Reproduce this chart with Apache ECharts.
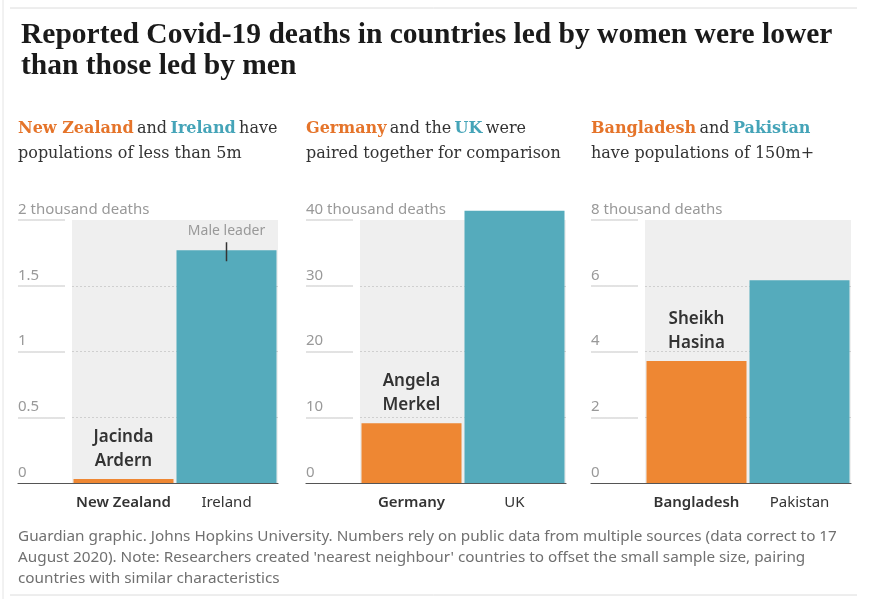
<!DOCTYPE html>
<html>
<head>
<meta charset="utf-8">
<script src="https://cdn.jsdelivr.net/npm/echarts@6/dist/echarts.min.js"></script>
<style>
html,body{margin:0;padding:0;background:#fff;}
#chart{width:870px;height:599px;}
</style>
</head>
<body>
<div id="chart"></div>
<script>
// ---- data ----
const catsA = ['New Zealand', 'Ireland'];
const valsA = [0.03, 1.77];
const catsB = ['Germany', 'UK'];
const valsB = [9.1, 41.4];
const catsC = ['Bangladesh', 'Pakistan'];
const valsC = [3.71, 6.17];
const leaders = ['Jacinda\nArdern', 'Angela\nMerkel', 'Sheikh\nHasina'];
const maleNote = 'Male leader';
const axisMax = [2, 40, 8];
const axisStep = [0.5, 10, 2];
const unitLabel = ' thousand deaths';

const ORANGE = '#ee8733';
const TEAL = '#55abbc';
const ORANGE_T = '#e5742a';
const TEAL_T = '#45a4b8';
const DARK = '#333333';
const GREY = '#999999';
const SANS = '"Noto Sans", "Open Sans", sans-serif';
const SERIF = '"DejaVu Serif", serif';

const chart = echarts.init(document.getElementById('chart'), null, {renderer: 'canvas'});

const panelX = [18, 306, 591];   // label column left
const gapA = 54;                  // width of label column to gray area
const plotW = 206;
const plotTop = 220, plotH = 263;

const cats = [catsA, catsB, catsC];
const vals = [valsA, valsB, valsC];

const grids = [], xAxes = [], yAxes = [], series = [];
for (let p = 0; p < 3; p++) {
  const gA = grids.length;
  grids.push({left: panelX[p], top: plotTop, width: gapA, height: plotH, show: false});
  const gB = grids.length;
  grids.push({left: panelX[p] + gapA, top: plotTop, width: plotW, height: plotH, show: true,
    backgroundColor: '#efefef', borderWidth: 0});
  // label column axes
  xAxes.push({gridIndex: gA, type: 'value', min: 0, max: 1,
    axisLine: {show: true, onZero: false, lineStyle: {color: '#555', width: 1.2}},
    axisTick: {show: false}, axisLabel: {show: false}, splitLine: {show: false}});
  yAxes.push({gridIndex: gA, type: 'value', min: 0, max: axisMax[p], interval: axisStep[p],
    axisLine: {show: false}, axisTick: {show: false},
    axisLabel: {show: true, inside: true, margin: 0, align: 'left', verticalAlign: 'bottom',
      padding: [0, 0, 3, 0], color: GREY, fontFamily: SANS, fontSize: 15,
      showMinLabel: true, showMaxLabel: true,
      formatter: (v) => v === axisMax[p] ? v + unitLabel : String(v)},
    splitLine: {show: true, showMinLine: false, lineStyle: {width: 1.5, color: {
      type: 'linear', x: 0, y: 0, x2: 1, y2: 0,
      colorStops: [{offset: 0, color: '#d9d9d9'}, {offset: 0.833, color: '#d9d9d9'},
                   {offset: 0.834, color: 'rgba(255,255,255,0)'}, {offset: 1, color: 'rgba(255,255,255,0)'}]}}}
  });
  // plot axes
  const xi = xAxes.length;
  xAxes.push({gridIndex: gB, type: 'category', data: cats[p],
    axisLine: {show: true, lineStyle: {color: '#555', width: 1.2}},
    axisTick: {show: false},
    axisLabel: {interval: 0, margin: 12, fontFamily: SANS, fontSize: 15, color: DARK, hideOverlap: false,
      formatter: (v, i) => i === 0 ? '{b|' + v + '}' : '{n|' + v + '}',
      rich: {b: {fontWeight: 600, fontSize: 15, fontFamily: SANS, color: DARK},
             n: {fontWeight: 400, fontSize: 15, fontFamily: SANS, color: DARK}}}
  });
  const yi = yAxes.length;
  yAxes.push({gridIndex: gB, type: 'value', min: 0, max: axisMax[p], interval: axisStep[p],
    axisLine: {show: false}, axisTick: {show: false}, axisLabel: {show: false},
    splitLine: {show: true, showMinLine: false, showMaxLine: false,
      lineStyle: {type: [2, 2], color: '#cfcfcf', width: 1}}
  });
  const data = [
    {value: vals[p][0], itemStyle: {color: ORANGE},
     label: {show: true, position: 'top', distance: 6, formatter: leaders[p],
       fontFamily: SANS, fontSize: 17, fontWeight: 600, color: DARK, lineHeight: 24, align: 'center'}},
    {value: vals[p][1], itemStyle: {color: TEAL},
     label: p === 0 ? {show: true, position: 'top', distance: -11,
       formatter: '{t|' + maleNote + '}\n{l|}',
       rich: {t: {color: GREY, fontFamily: SANS, fontSize: 14, lineHeight: 22, align: 'center'},
              l: {width: 1.5, height: 19, backgroundColor: DARK, align: 'center'}}} : {show: false}}
  ];
  series.push({type: 'bar', xAxisIndex: xi, yAxisIndex: yi, data: data, barWidth: 100,
    clip: false, animation: false});
}

const subtitles = [
  '{o|New Zealand} {d|and} {t|Ireland} {d|have}\n{d|populations of less than 5m}',
  '{o|Germany} {d|and the} {t|UK} {d|were}\n{d|paired together for comparison}',
  '{o|Bangladesh} {d|and} {t|Pakistan}\n{d|have populations of 150m+}'
];
const subRich = {
  o: {fill: ORANGE_T, fontWeight: 'bold', fontFamily: SERIF, fontSize: 16, lineHeight: 25},
  t: {fill: TEAL_T, fontWeight: 'bold', fontFamily: SERIF, fontSize: 16, lineHeight: 25},
  d: {fill: DARK, fontWeight: 'normal', fontFamily: SERIF, fontSize: 16, lineHeight: 25}
};

const graphics = [
  {type: 'line', shape: {x1: 10, y1: 8, x2: 857, y2: 8}, style: {stroke: '#dcdcdc', lineWidth: 1}},
  {type: 'line', shape: {x1: 3, y1: 0, x2: 3, y2: 599}, style: {stroke: '#e4e4e4', lineWidth: 1}},
  {type: 'line', shape: {x1: 10, y1: 595, x2: 857, y2: 595}, style: {stroke: '#dcdcdc', lineWidth: 1}},
  {type: 'text', left: 18, top: 526, style: {
    text: "Guardian graphic. Johns Hopkins University. Numbers rely on public data from multiple sources (data correct to 17\nAugust 2020). Note: Researchers created 'nearest neighbour' countries to offset the small sample size, pairing\ncountries with similar characteristics",
    fill: '#707070', fontFamily: SANS, fontSize: 15.3, lineHeight: 21}}
];
for (let p = 0; p < 3; p++) {
  graphics.push({type: 'text', left: panelX[p], top: 121, style: {text: subtitles[p], rich: subRich}});
}

chart.setOption({
  animation: false,
  title: {
    text: 'Reported Covid-19 deaths in countries led by women were lower\nthan those led by men',
    left: 16, top: 15,
    textStyle: {fontFamily: '"Liberation Serif", serif', fontWeight: 'bold', fontSize: 29.5,
      color: '#1a1a1a', lineHeight: 31}
  },
  grid: grids, xAxis: xAxes, yAxis: yAxes, series: series, graphic: graphics
});
</script>
</body>
</html>
